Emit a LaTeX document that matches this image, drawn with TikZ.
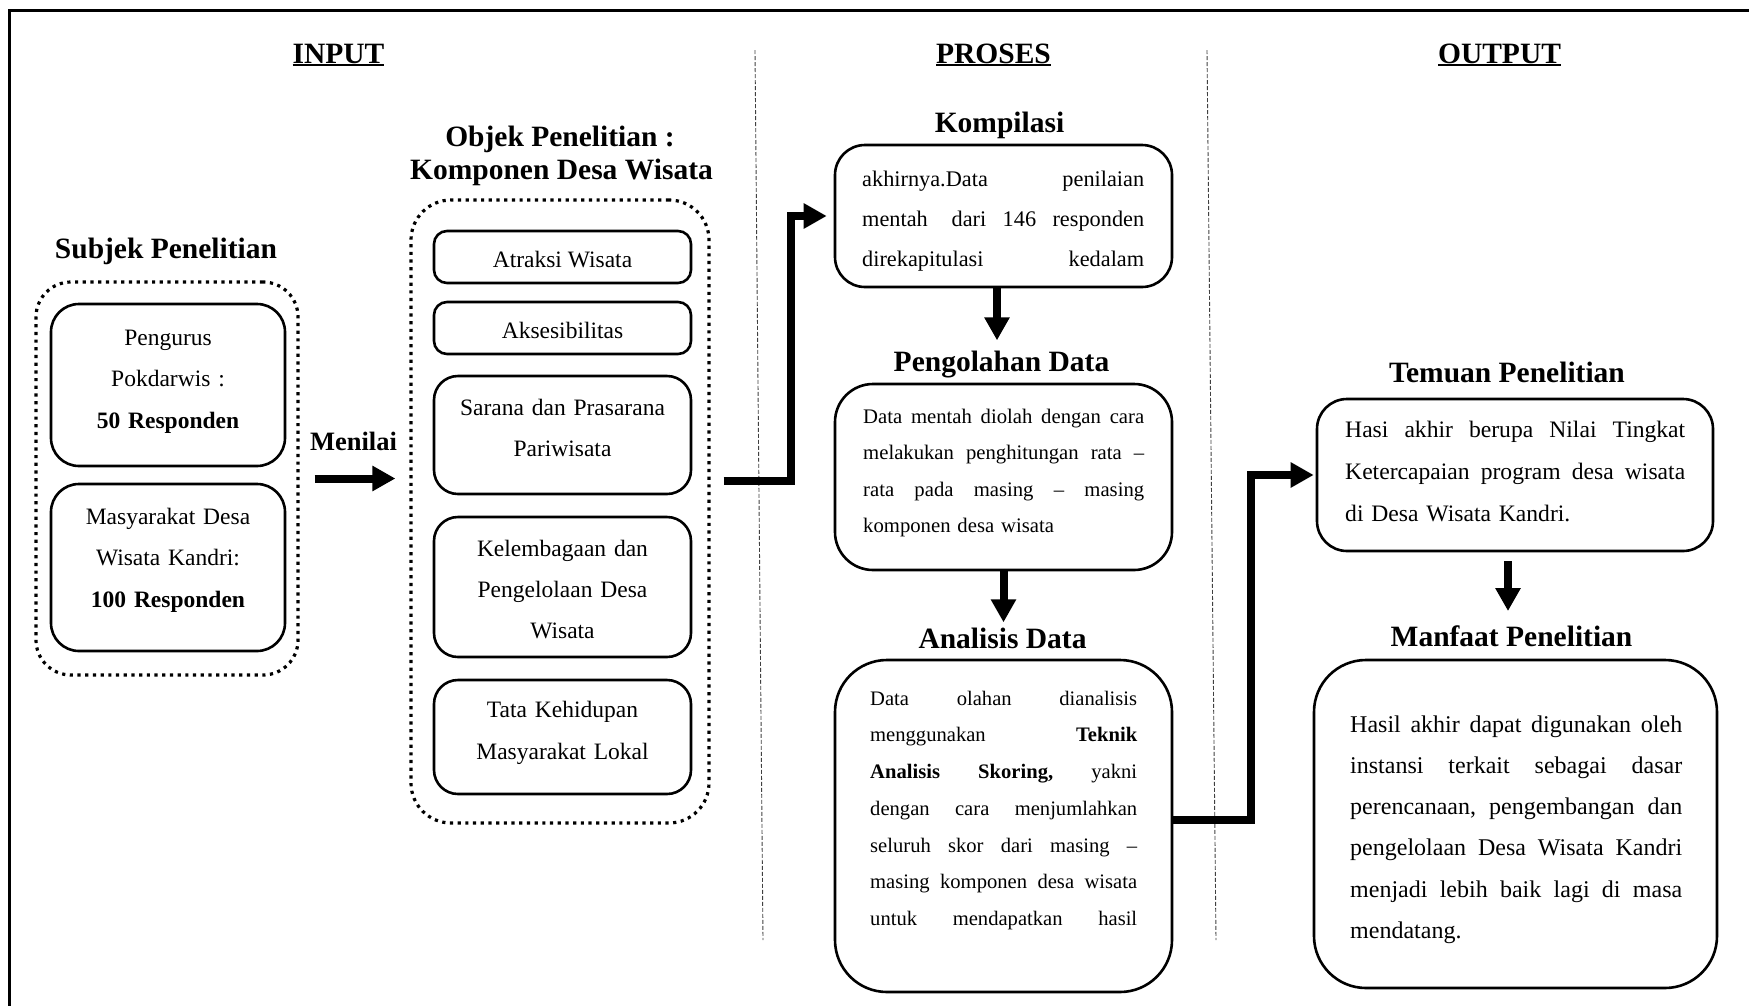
\documentclass[tikz,border=0pt]{standalone}
\usepackage{fontspec}
\setmainfont{Liberation Serif}
\usetikzlibrary{arrows.meta}
\newcommand{\ulhead}[1]{\setbox0=\hbox{#1}\rlap{\rule[-3.4pt]{\wd0}{2.3pt}}\box0}
\tikzset{
  solidbox/.style={draw, line width=2.6pt, rectangle, rounded corners=#1, inner sep=0pt},
  dotbox/.style={draw, line width=3.2pt, dash pattern=on 3.2pt off 4.5pt, rectangle, rounded corners=#1, inner sep=0pt},
  head/.style={font=\fontsize{29.5}{32}\selectfont\bfseries, inner sep=0pt, anchor=base},
  bigarrow/.style={line width=8pt, -{Triangle[length=23pt,width=24pt]}},
  divider/.style={line width=0.9pt, dash pattern=on 4pt off 2pt, black!75},
  para/.style={inner sep=0pt, anchor=north west, align=left},
  ctext/.style={inner sep=0pt, anchor=north, align=center, text width=230pt, font=\fontsize{23.5}{41.5}\selectfont},
  stext/.style={inner sep=0pt, anchor=base, font=\fontsize{23.5}{41.5}\selectfont},
}
\begin{document}
\begin{tikzpicture}[x=1pt,y=-1pt]
\useasboundingbox (0,0) rectangle (1749,1005);
% outer frame (cut at right and bottom)
\draw[line width=3pt] (9.5,1010) -- (9.5,10) -- (1755,10);
% dividers
\draw[divider] (755,50) -- (763,940);
\draw[divider] (1207,50) -- (1216,940);

% headings
\node[head] (inTitle) at (338.5,63) {\ulhead{INPUT}};
\node[head] (prTitle) at (993.5,63) {\ulhead{PROSES}};
\node[head] (outTitle) at (1499.5,63) {\ulhead{OUTPUT}};

% ---------- INPUT: Subjek ----------
\node[head] (subjTitle) at (166,258) {Subjek Penelitian};
\node[dotbox=35pt, minimum width=262pt, minimum height=393pt] (subjBox) at (167,478.5) {};
\node[solidbox=28pt, minimum width=234pt, minimum height=162pt] (p1Box) at (168,385) {};
\node[solidbox=28pt, minimum width=234pt, minimum height=167pt] (p2Box) at (168,567.5) {};
\node[ctext] (p1Text) at (168,316) {\strut Pengurus\\ Pokdarwis :\\ \textbf{50 Responden}};
\node[ctext] (p2Text) at (168,495) {\strut Masyarakat Desa\\ Wisata Kandri:\\ \textbf{100 Responden}};

\node[head, font=\fontsize{26.5}{28}\selectfont\bfseries] (menilai) at (353.5,450) {Menilai};

% ---------- INPUT: Objek ----------
\node[head] (objTitleA) at (560,146) {Objek Penelitian :};
\node[head] (objTitleB) at (561.5,179) {Komponen Desa Wisata};
\node[dotbox=40pt, minimum width=298pt, minimum height=623pt] (objBox) at (560,511.5) {};
\node[solidbox=13pt, minimum width=257pt, minimum height=52pt] (atrBox) at (562.5,257) {};
\node[solidbox=13pt, minimum width=257pt, minimum height=52pt] (aksBox) at (562.5,328) {};
\node[solidbox=24pt, minimum width=257pt, minimum height=118pt] (sarBox) at (562.5,435) {};
\node[solidbox=24pt, minimum width=257pt, minimum height=140pt] (kelBox) at (562.5,587) {};
\node[solidbox=24pt, minimum width=257pt, minimum height=114pt] (tataBox) at (562.5,737) {};
\node[stext] (atrText) at (562.5,267) {Atraksi Wisata};
\node[stext] (aksText) at (562.5,338) {Aksesibilitas};
\node[ctext, font=\fontsize{23.5}{41}\selectfont] (sarText) at (562.5,386.3) {\strut Sarana dan Prasarana\\ Pariwisata};
\node[ctext, font=\fontsize{23.5}{41}\selectfont] (kelText) at (562.5,527.3) {\strut Kelembagaan dan\\ Pengelolaan Desa\\ Wisata};
\node[ctext, font=\fontsize{23.5}{42}\selectfont] (tataText) at (562.5,687.6) {\strut Tata Kehidupan\\ Masyarakat Lokal};

% ---------- PROSES ----------
\node[head] (kompTitle) at (999.5,132) {Kompilasi};
\node[solidbox=30pt, minimum width=337pt, minimum height=142pt] (kompBox) at (1003.5,216) {};
\node[para, text width=282pt, font=\fontsize{22.3}{40}\selectfont] (kompText) at (862,158) {\strut akhirnya.Data \hfill penilaian\\
mentah\ \ \hfill dari \hfill 146 \hfill responden\\
direkapitulasi \hfill kedalam};

\node[head] (pengTitle) at (1001.5,371) {Pengolahan Data};
\node[solidbox=38pt, minimum width=337pt, minimum height=186pt] (pengBox) at (1003.5,477) {};
\node[para, text width=281pt, font=\fontsize{20.7}{36.5}\selectfont] (pengText) at (863,397.5) {\strut Data \hfill mentah \hfill diolah \hfill dengan \hfill cara\\
melakukan \hfill penghitungan \hfill rata \hfill –\\
rata \hfill pada \hfill masing \hfill – \hfill masing\\
komponen desa wisata};

\node[head] (anaTitle) at (1002.5,648) {Analisis Data};
\node[solidbox=52pt, minimum width=337pt, minimum height=332pt] (anaBox) at (1003.5,826) {};
\node[para, text width=267pt, font=\fontsize{20.6}{36.7}\selectfont] (anaText) at (870,679.3) {\strut Data \hfill olahan \hfill dianalisis\\
menggunakan \hfill \textbf{Teknik}\\
\textbf{Analisis} \hfill \textbf{Skoring,} \hfill yakni\\
dengan \hfill cara \hfill menjumlahkan\\
seluruh \hfill skor \hfill dari \hfill masing \hfill –\\
masing \hfill komponen \hfill desa \hfill wisata\\
untuk \hfill mendapatkan \hfill hasil};

% ---------- OUTPUT ----------
\node[head] (temTitle) at (1507,382) {Temuan Penelitian};
\node[solidbox=30pt, minimum width=396pt, minimum height=152pt] (temBox) at (1515,475) {};
\node[para, text width=340pt, font=\fontsize{23.6}{42}\selectfont] (temText) at (1345,407.6) {\strut Hasi \hfill akhir \hfill berupa \hfill Nilai \hfill Tingkat\\
Ketercapaian \hfill program \hfill desa \hfill wisata\\
di Desa Wisata Kandri.};

\node[head] (manTitle) at (1511.5,646) {Manfaat Penelitian};
\node[solidbox=52pt, minimum width=403pt, minimum height=328pt] (manBox) at (1515.5,824) {};
\node[para, text width=332pt, font=\fontsize{24}{41.2}\selectfont] (manText) at (1350,703.2) {\strut Hasil \hfill akhir \hfill dapat \hfill digunakan \hfill oleh\\
instansi \hfill terkait \hfill sebagai \hfill dasar\\
perencanaan, \hfill pengembangan \hfill dan\\
pengelolaan \hfill Desa \hfill Wisata \hfill Kandri\\
menjadi \hfill lebih \hfill baik \hfill lagi \hfill di \hfill masa\\
mendatang.};

% ---------- connectors ----------
\draw[bigarrow, shorten <=15pt, shorten >=14pt] (subjBox.east) -- (subjBox.east -| objBox.west);
\coordinate (objOut) at ([xshift=13pt,yshift=30.5pt]objBox.east);
\draw[bigarrow, shorten >=7pt] (objOut) -- ++(67,0) |- (kompBox.west);
\coordinate (kompDown) at ([xshift=-6.5pt]kompBox.south);
\draw[bigarrow, shorten >=10pt] (kompDown) -- (kompDown |- pengTitle.north);
\draw[bigarrow, shorten >=5pt] (pengBox.south) -- (pengBox.south |- anaTitle.north);
\coordinate (anaOut) at ([yshift=6pt]anaBox.east);
\draw[bigarrow, shorten >=2pt] (anaOut) -- ++(78,0) |- (temBox.west);
\coordinate (temDown) at ([xshift=-7pt]temBox.south);
\draw[bigarrow, shorten <=9pt, shorten >=14pt] (temDown) -- (temDown |- manTitle.north);
\end{tikzpicture}
\end{document}
